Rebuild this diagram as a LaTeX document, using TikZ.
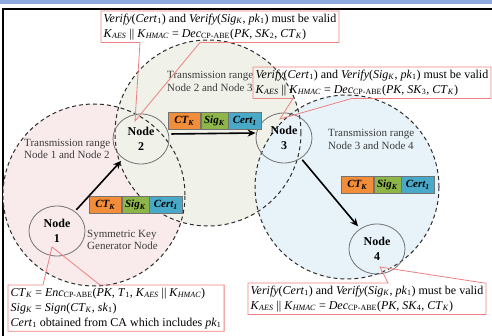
\documentclass[tikz,border=0pt]{standalone}
\usepackage{fontspec}
\setmainfont{Liberation Serif}
\usepackage{xcolor}
\usepackage{tikz}
\usetikzlibrary{arrows.meta, positioning, calc, shapes.geometric}
\definecolor{hdrblue}{RGB}{142,170,222}
\definecolor{rangepink}{RGB}{249,235,236}
\definecolor{rangegreen}{RGB}{240,241,233}
\definecolor{rangeblue}{RGB}{231,243,249}
\definecolor{rangeline}{RGB}{45,45,45}
\definecolor{nodegray}{RGB}{115,115,115}
\definecolor{callred}{RGB}{238,128,128}
\definecolor{pktorange}{RGB}{242,141,58}
\definecolor{pktgreen}{RGB}{141,181,72}
\definecolor{pktblue}{RGB}{72,170,200}
\definecolor{labelgray}{RGB}{60,60,60}
\newcommand{\itsub}[2]{\textit{#1}\textsubscript{\textit{#2}}}
\newcommand{\rmsub}[2]{\textit{#1}\textsubscript{#2}}
\tikzset{
  rangeedge/.style={draw=rangeline, dash pattern=on 4pt off 3pt, line width=1pt},
  sensor/.style={ellipse, draw=nodegray, line width=0.8pt, minimum width=56pt,
    minimum height=50pt, inner sep=0pt, align=center,
    font=\fontsize{12}{15}\selectfont\bfseries},
  rangelabel/.style={anchor=west, align=left, inner sep=0pt, text=labelgray,
    font=\fontsize{11}{12.5}\selectfont},
  calltext/.style={anchor=north west, align=left, inner sep=2.5pt,
    font=\fontsize{12}{15}\selectfont},
  callline/.style={draw=callred, line width=0.8pt},
  pkt/.style={rectangle, draw=nodegray, line width=0.5pt, minimum height=17pt,
    inner sep=0pt, font=\fontsize{11}{12}\selectfont\bfseries\itshape},
  ctbox/.style={pkt, fill=pktorange, minimum width=32pt},
  sigbox/.style={pkt, fill=pktgreen, minimum width=27pt},
  certbox/.style={pkt, fill=pktblue, minimum width=33pt},
  flowarrow/.style={-{Stealth[length=8pt, width=7pt]}, line width=1.6pt, color=black}
}

\begin{document}
\begin{tikzpicture}[x=1pt, y=-1pt]
  \useasboundingbox (0,0) rectangle (492,336);
  % Screenshot frame
  \fill[hdrblue] (0,0) rectangle (492,4.5);
  \draw[line width=1.6pt] (3,336) -- (3,9) -- (492,9);

  % Transmission ranges
  \coordinate (c12) at (94,195);
  \coordinate (c23) at (208,133);
  \coordinate (c34) at (347,187);
  \fill[rangepink] (c12) circle (91pt);
  \fill[rangegreen] (c23) circle (93pt);
  \fill[rangeblue] (c34) circle (92pt);
  \draw[rangeedge] (c12) circle (91pt);
  \draw[rangeedge] (c23) circle (93pt);
  \draw[rangeedge] (c34) circle (92pt);

  \node[rangelabel] (l12) at (24,149) {Transmission range\\Node 1 and Node 2};
  \node[rangelabel] (l23) at (167,81.5) {Transmission range\\Node 2 and Node 3};
  \node[rangelabel] (l34) at (328,139.5) {Transmission range\\Node 3 and Node 4};

  % Nodes
  \node[sensor] (n1) at (57,231) {Node\\1};
  \node[sensor] (n2) at (141,139) {Node\\2};
  \node[sensor] (n3) at (284,138) {Node\\3};
  \node[sensor] (n4) at (377,249) {Node\\4};
  \node[rangelabel] (gen) at (87,240) {Symmetric Key\\Generator Node};

  % Packets
  \node[ctbox, anchor=west] (ct1) at (89,205) {\itsub{CT}{K}};
  \node[sigbox, right=0pt of ct1] (sig1) {\itsub{Sig}{K}};
  \node[certbox, right=0pt of sig1] (cert1) {\rmsub{Cert}{1}};
  \node[ctbox, anchor=west] (ct2) at (168,121) {\itsub{CT}{K}};
  \node[sigbox, right=0pt of ct2] (sig2) {\itsub{Sig}{K}};
  \node[certbox, right=0pt of sig2] (cert2) {\rmsub{Cert}{1}};
  \node[ctbox, anchor=west] (ct3) at (341,185) {\itsub{CT}{K}};
  \node[sigbox, right=0pt of ct3] (sig3) {\itsub{Sig}{K}};
  \node[certbox, right=0pt of sig3] (cert3) {\rmsub{Cert}{1}};

  % Arrows
  \draw[flowarrow, shorten <=2pt, shorten >=3pt] (n1) -- (n2);
  \draw[flowarrow, shorten <=2pt] ([yshift=5pt]n2.east) -- ([yshift=5pt]n3.west);
  \draw[flowarrow, shorten <=2pt, shorten >=3pt] (n3) -- (n4);

  % Callouts
  \coordinate (tip1) at ($(n1)+(-5,16)$);
  \coordinate (tip2) at ($(n2)+(-6,-18)$);
  \coordinate (tip3) at ($(n3)+(-4,-19)$);
  \coordinate (tip4) at ($(n4)+(3,18)$);

  \node[calltext] (v2) at (101,11) {\textit{Verify}(\rmsub{Cert}{1}) and \textit{Verify}(\itsub{Sig}{K}, \rmsub{pk}{1}) must be valid\\
    \itsub{K}{AES} || \itsub{K}{HMAC} = \rmsub{Dec}{CP-ABE}(\textit{PK}, \rmsub{SK}{2}, \itsub{CT}{K})};
  \draw[callline] ([xshift=39pt]v2.south west) -- (tip2) -- ([xshift=99pt]v2.south west)
    -- (v2.south east) -- (v2.north east) -- (v2.north west) -- (v2.south west) -- cycle;

  \node[calltext] (v3) at (253,67) {\textit{Verify}(\rmsub{Cert}{1}) and \textit{Verify}(\itsub{Sig}{K}, \rmsub{pk}{1}) must be valid\\
    \itsub{K}{AES} || \itsub{K}{HMAC} = \rmsub{Dec}{CP-ABE}(\textit{PK}, \rmsub{SK}{3}, \itsub{CT}{K})};
  \draw[callline] ([xshift=40pt]v3.south west) -- (tip3) -- ([xshift=99pt]v3.south west)
    -- (v3.south east) -- (v3.north east) -- (v3.north west) -- (v3.south west) -- cycle;

  \node[calltext] (v1) at (8,285) {\itsub{CT}{K} = \rmsub{Enc}{CP-ABE}(\textit{PK}, \rmsub{T}{1}, \itsub{K}{AES} || \itsub{K}{HMAC})\\
    \itsub{Sig}{K} = \textit{Sign}(\itsub{CT}{K}, \rmsub{sk}{1})\\
    \rmsub{Cert}{1} obtained from CA which includes \rmsub{pk}{1}};
  \draw[callline] ([xshift=35pt]v1.north west) -- (tip1) -- ([xshift=92pt]v1.north west)
    -- (v1.north east) -- (v1.south east) -- (v1.south west) -- (v1.north west) -- cycle;

  \node[calltext] (v4) at (248,283) {\textit{Verify}(\rmsub{Cert}{1}) and \textit{Verify}(\itsub{Sig}{K}, \rmsub{pk}{1}) must be valid\\
    \itsub{K}{AES} || \itsub{K}{HMAC} = \rmsub{Dec}{CP-ABE}(\textit{PK}, \rmsub{SK}{4}, \itsub{CT}{K})};
  \draw[callline] ([xshift=140pt]v4.north west) -- (tip4) -- ([xshift=236pt]v4.north west)
    -- (v4.north east) -- (v4.south east) -- (v4.south west) -- (v4.north west) -- cycle;
\end{tikzpicture}
\end{document}
